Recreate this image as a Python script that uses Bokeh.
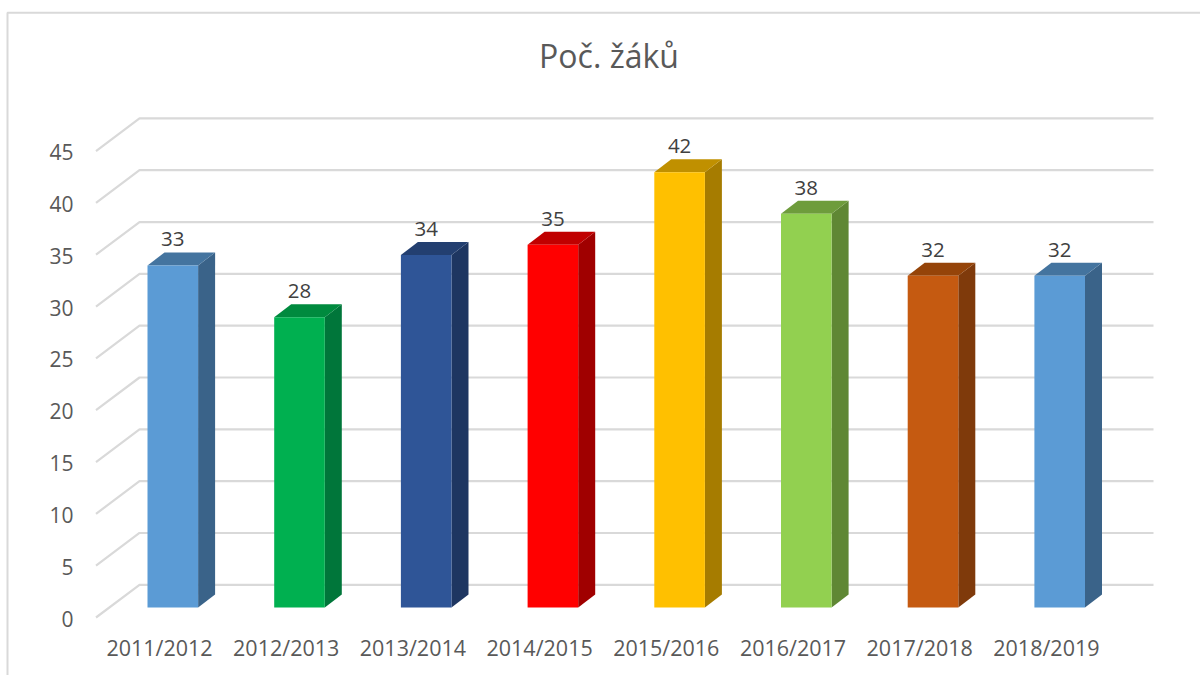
from bokeh.plotting import figure
from bokeh.models import Range1d, LinearAxis, FixedTicker, Label, ColumnDataSource
from bokeh.embed import file_html
from bokeh.resources import INLINE

# Data
title_text = "Poč. žáků"
categories = ["2011/2012", "2012/2013", "2013/2014", "2014/2015", "2015/2016", "2016/2017", "2017/2018", "2018/2019"]
values = [33, 28, 34, 35, 42, 38, 32, 32]
y_ticks = [0, 5, 10, 15, 20, 25, 30, 35, 40, 45]
front_colors = ["#5B9BD5", "#00B050", "#2F5597", "#FF0000", "#FFC000", "#92D050", "#C55A11", "#5B9BD5"]
top_colors = ["#44749F", "#008A3E", "#233F70", "#C00000", "#C09000", "#6E9C3C", "#954409", "#44749F"]
side_colors = ["#3A6389", "#00763A", "#1E3661", "#A00000", "#A67C00", "#5F8734", "#7F3A0B", "#3A6389"]

# Layout (page pixels of the 1200x675 picture)
W, H = 1200, 675
PX_STEP, PX_X0 = 126.7, 172.3   # category spacing and first bar's front centre
PX_UNIT, PX_Y0 = 10.365, 607.0  # pixels per value and the front baseline of the bars
BAR_W = 50.6 / PX_STEP
DEPTH_X, DEPTH_Y = 17 / PX_STEP, 13 / PX_UNIT
WALL_LEFT, WALL_BACK, WALL_RIGHT = 95.5, 139.0, 1153.0
FLOOR_FRONT, FLOOR_BACK = 617.0, 584.3
LABEL_X0 = 159.0
GRID = "#D9D9D9"
TEXT = "#595959"
FONT = "Open Sans"


def dx(px):
    return (px - PX_X0) / PX_STEP


def dy(px):
    return (PX_Y0 - px) / PX_UNIT


p = figure(width=W, height=H, margin=(0, 0, 0, 0), output_backend="svg", toolbar_location=None,
           x_axis_type=None, y_axis_type=None, min_border=0,
           x_range=Range1d(dx(0), dx(W)), y_range=Range1d(dy(H), dy(0)))
p.outline_line_color = None
p.grid.visible = False
p.background_fill_color = "white"

# Chart border
p.line([dx(7), dx(7), dx(W)], [dy(H), dy(12.3), dy(12.3)], line_color=GRID, line_width=2)

# Wall and floor gridlines
grid_xs, grid_ys = [], []
for v in y_ticks:
    grid_xs.append([dx(WALL_LEFT), dx(WALL_BACK), dx(WALL_RIGHT)])
    grid_ys.append([dy(FLOOR_FRONT) + v, dy(FLOOR_BACK) + v, dy(FLOOR_BACK) + v])
p.multi_line(grid_xs, grid_ys, line_color=GRID, line_width=2.2)

# 3D bars
xs = list(range(len(values)))
hw = BAR_W / 2
side_x = [[i + hw, i + hw + DEPTH_X, i + hw + DEPTH_X, i + hw] for i in xs]
side_y = [[0, DEPTH_Y, v + DEPTH_Y, v] for v in values]
top_x = [[i - hw, i - hw + DEPTH_X, i + hw + DEPTH_X, i + hw] for i in xs]
top_y = [[v, v + DEPTH_Y, v + DEPTH_Y, v] for v in values]
p.patches(side_x, side_y, fill_color=side_colors, line_color=None)
p.patches(top_x, top_y, fill_color=top_colors, line_color=None)
p.vbar(x=xs, width=BAR_W, bottom=0, top=values, fill_color=front_colors, line_color=None)

# Data labels
src = ColumnDataSource(dict(x=xs, y=[v + DEPTH_Y for v in values], t=[str(v) for v in values]))
p.text("x", "y", text="t", source=src, text_align="center", text_baseline="alphabetic", y_offset=-13,
       text_font={"value": FONT}, text_font_size="20.5px", text_color="#404040")

# Value axis, placed on the floor's front edge
p.extra_y_ranges["floor"] = Range1d((FLOOR_FRONT + 1 - H) / PX_UNIT, (FLOOR_FRONT + 1) / PX_UNIT)
y_axis = LinearAxis(y_range_name="floor", fixed_location=dx(82), ticker=FixedTicker(ticks=y_ticks))
y_axis.axis_line_color = None
y_axis.major_tick_line_color = None
y_axis.minor_tick_line_color = None
y_axis.major_label_standoff = 3
y_axis.major_label_text_font = FONT
y_axis.major_label_text_font_size = "21px"
y_axis.major_label_text_color = TEXT
p.add_layout(y_axis, "left")

# Category axis
p.extra_x_ranges["labels"] = Range1d(-LABEL_X0 / PX_STEP, (W - LABEL_X0) / PX_STEP)
x_axis = LinearAxis(x_range_name="labels", fixed_location=dy(623), ticker=FixedTicker(ticks=xs),
                    major_label_overrides={i: c for i, c in enumerate(categories)})
x_axis.axis_line_color = None
x_axis.major_tick_line_color = None
x_axis.minor_tick_line_color = None
x_axis.major_label_standoff = 3
x_axis.major_label_text_font = FONT
x_axis.major_label_text_font_size = "21.5px"
x_axis.major_label_text_color = TEXT
p.add_layout(x_axis, "below")

# Title
p.add_layout(Label(x=dx(608.5), y=dy(55), text=title_text, text_align="center", text_baseline="middle",
                   text_font=FONT, text_font_size="32px", text_color=TEXT))

open("out.html", "w").write(file_html(p, INLINE))
